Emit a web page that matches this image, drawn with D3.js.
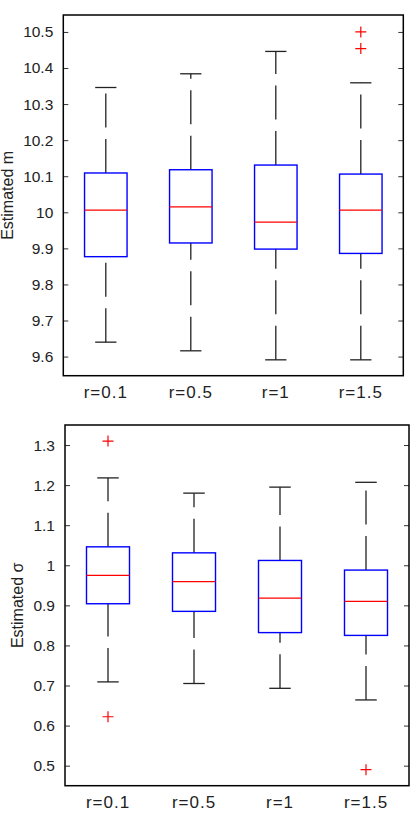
<!DOCTYPE html>
<html>
<head>
<meta charset="utf-8">
<script src="https://cdn.jsdelivr.net/npm/d3@7"></script>
<style>
  body { margin: 0; background: #fff; }
  svg { display: block; font-family: "Liberation Sans", Arial, sans-serif; }
</style>
</head>
<body>
<svg id="chart" width="417" height="819"></svg>
<script>
// --- data
const categories = ["r=0.1", "r=0.5", "r=1", "r=1.5"]

const mLower = [9.640, 9.616, 9.591, 9.591]
const mQ1 = [9.877, 9.915, 9.898, 9.886]
const mMedian = [10.006, 10.015, 9.973, 10.006]
const mQ3 = [10.109, 10.118, 10.131, 10.106]
const mUpper = [10.346, 10.384, 10.446, 10.359]
const mOutliers = [[], [], [], [10.5, 10.454]]
const mTicks = [9.6, 9.7, 9.8, 9.9, 10, 10.1, 10.2, 10.3, 10.4, 10.5]

const sLower = [0.709, 0.705, 0.693, 0.664]
const sQ1 = [0.904, 0.885, 0.832, 0.825]
const sMedian = [0.975, 0.959, 0.918, 0.910]
const sQ3 = [1.046, 1.031, 1.012, 0.988]
const sUpper = [1.218, 1.180, 1.195, 1.207]
const sOutliers = [[1.310, 0.622], [], [], [0.490]]
const sTicks = [0.5, 0.6, 0.7, 0.8, 0.9, 1, 1.1, 1.2, 1.3]

const svg = d3.select("#chart")

function drawPanel(opts) {
    const { left, right, top, bottom, domain, ticks, label, labelX,
            lower, q1, median, q3, upper, outliers } = opts

    const x = d3.scaleLinear().domain([0.5, 4.5]).range([left, right])
    const y = d3.scaleLinear().domain(domain).range([bottom, top])
    const unit = x(1) - x(0)
    const boxW = unit * 0.5
    const capW = unit * 0.25

    const g = svg.append("g")

    // left / right ticks (inside)
    g.append("g")
        .attr("transform", `translate(${left},0)`)
        .call(d3.axisLeft(y).tickValues(ticks).tickSize(-5).tickPadding(10)
            .tickFormat(d => String(+d.toFixed(1))))
        .call(a => a.select(".domain").remove())
        .call(a => a.selectAll("line").attr("stroke", "#333"))
        .call(a => a.selectAll("text").attr("font-size", 15.5).attr("fill", "#222")
            .attr("font-family", "Liberation Sans, Arial, sans-serif"))

    g.append("g")
        .attr("transform", `translate(${right},0)`)
        .call(d3.axisRight(y).tickValues(ticks).tickSize(-5).tickFormat(""))
        .call(a => a.select(".domain").remove())
        .call(a => a.selectAll("line").attr("stroke", "#333"))

    // category labels
    g.selectAll(".cat")
        .data(categories)
        .join("text")
        .attr("x", (d, i) => x(i + 1))
        .attr("y", bottom + 22)
        .attr("text-anchor", "middle")
        .attr("font-size", 17)
        .attr("letter-spacing", 1)
        .attr("fill", "#222")
        .text(d => d)

    const idx = d3.range(categories.length)

    // whiskers, drawn bottom-up so the dash pattern starts at the low end
    const dash = "34,11.5"
    g.selectAll(".wup")
        .data(idx)
        .join("line")
        .attr("x1", i => x(i + 1)).attr("x2", i => x(i + 1))
        .attr("y1", i => y(q3[i])).attr("y2", i => y(upper[i]))
        .attr("stroke", "#222").attr("stroke-width", 1.3)
        .attr("stroke-dasharray", dash)
    g.selectAll(".wlo")
        .data(idx)
        .join("line")
        .attr("x1", i => x(i + 1)).attr("x2", i => x(i + 1))
        .attr("y1", i => y(lower[i])).attr("y2", i => y(q1[i]))
        .attr("stroke", "#222").attr("stroke-width", 1.3)
        .attr("stroke-dasharray", dash)

    // caps
    const caps = idx.flatMap(i => [{ i, v: upper[i] }, { i, v: lower[i] }])
    g.selectAll(".cap")
        .data(caps)
        .join("line")
        .attr("x1", d => x(d.i + 1) - capW / 2).attr("x2", d => x(d.i + 1) + capW / 2)
        .attr("y1", d => y(d.v)).attr("y2", d => y(d.v))
        .attr("stroke", "#222").attr("stroke-width", 1.3)

    // boxes
    g.selectAll(".box")
        .data(idx)
        .join("rect")
        .attr("x", i => x(i + 1) - boxW / 2)
        .attr("width", boxW)
        .attr("y", i => y(q3[i]))
        .attr("height", i => y(q1[i]) - y(q3[i]))
        .attr("fill", "none")
        .attr("stroke", "#0000ff")
        .attr("stroke-width", 1.4)

    // medians
    g.selectAll(".med")
        .data(idx)
        .join("line")
        .attr("x1", i => x(i + 1) - boxW / 2).attr("x2", i => x(i + 1) + boxW / 2)
        .attr("y1", i => y(median[i])).attr("y2", i => y(median[i]))
        .attr("stroke", "#ff0000").attr("stroke-width", 1.3)

    // outliers
    const pts = idx.flatMap(i => outliers[i].map(v => ({ i, v })))
    const s = 5.5
    g.selectAll(".out")
        .data(pts)
        .join("path")
        .attr("d", d => {
            const cx = x(d.i + 1), cy = y(d.v)
            return `M${cx - s},${cy}H${cx + s}M${cx},${cy - s}V${cy + s}`
        })
        .attr("stroke", "#ff0000").attr("stroke-width", 1.2).attr("fill", "none")

    // frame
    g.append("rect")
        .attr("x", left).attr("y", top)
        .attr("width", right - left).attr("height", bottom - top)
        .attr("fill", "none").attr("stroke", "#000").attr("stroke-width", 1.5)

    // y label
    g.append("text")
        .attr("transform", `translate(${labelX},${(top + bottom) / 2}) rotate(-90)`)
        .attr("text-anchor", "middle")
        .attr("font-size", 16)
        .attr("fill", "#222")
        .text(label)
}

drawPanel({
    left: 63.3, right: 403.3, top: 15, bottom: 375.7,
    domain: [9.547, 10.547], ticks: mTicks,
    label: "Estimated m", labelX: 13,
    lower: mLower, q1: mQ1, median: mMedian, q3: mQ3, upper: mUpper, outliers: mOutliers
})

drawPanel({
    left: 65, right: 409, top: 425, bottom: 785.7,
    domain: [0.45, 1.35], ticks: sTicks,
    label: "Estimated  \u03c3", labelX: 23,
    lower: sLower, q1: sQ1, median: sMedian, q3: sQ3, upper: sUpper, outliers: sOutliers
})
</script>
</body>
</html>
